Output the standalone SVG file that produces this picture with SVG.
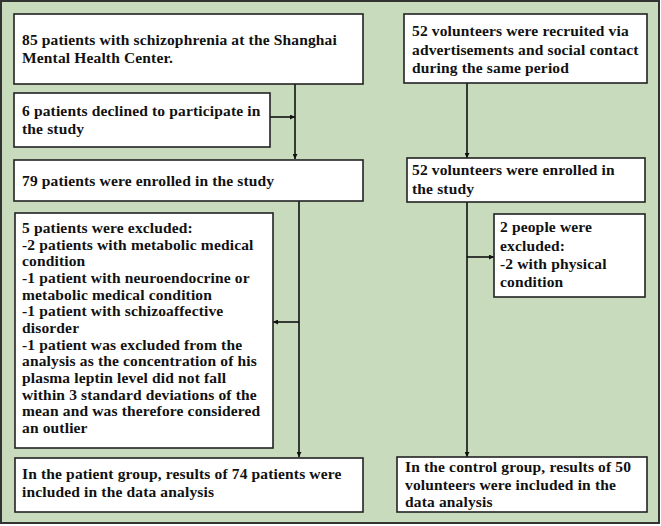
<svg xmlns="http://www.w3.org/2000/svg" width="661" height="526" viewBox="0 0 661 526">
<defs>
<marker id="ah" viewBox="0 0 10 10" refX="10" refY="5" markerWidth="5" markerHeight="5" orient="auto" markerUnits="userSpaceOnUse">
<path d="M0,0 L10,5 L0,10 z" fill="#111"/>
</marker>
<style>
.box{fill:#fff;stroke:#222;stroke-width:1.6}
.t{font-family:"Liberation Serif","Times New Roman",serif;font-weight:bold;font-size:15.5px;letter-spacing:0.15px;fill:#111}
.c{fill:none;stroke:#111;stroke-width:1.6}
</style>
</defs>
<rect x="1" y="1" width="658" height="522" fill="#c9dbbd" stroke="#333" stroke-width="2"/>
<g id="connectors">
<path class="c" d="M295,84 V159" marker-end="url(#ah)"/>
<path class="c" d="M270,117 H295" marker-end="url(#ah)"/>
<path class="c" d="M299,201 V457" marker-end="url(#ah)"/>
<path class="c" d="M299,322 H273" marker-end="url(#ah)"/>
<path class="c" d="M467,83 V158" marker-end="url(#ah)"/>
<path class="c" d="M467,202 V457" marker-end="url(#ah)"/>
<path class="c" d="M467,257 H494" marker-end="url(#ah)"/>
</g>
<g id="n1">
<rect class="box" x="14" y="14" width="349" height="70"/>
<text class="t" x="22" y="45">85 patients with schizophrenia at the Shanghai</text>
<text class="t" x="22" y="63">Mental Health Center.</text>
</g>
<g id="n2">
<rect class="box" x="14" y="93" width="256" height="54"/>
<text class="t" x="22" y="116">6 patients declined to participate in</text>
<text class="t" x="22" y="134">the study</text>
</g>
<g id="n3">
<rect class="box" x="14" y="160" width="349" height="41"/>
<text class="t" x="22" y="186">79 patients were enrolled in the study</text>
</g>
<g id="n4">
<rect class="box" x="15" y="213" width="258" height="235"/>
<text class="t" x="22" y="233">5 patients were excluded:</text>
<text class="t" x="22" y="250">-2 patients with metabolic medical</text>
<text class="t" x="22" y="266">condition</text>
<text class="t" x="22" y="283">-1 patient with neuroendocrine or</text>
<text class="t" x="22" y="300">metabolic medical condition</text>
<text class="t" x="22" y="316">-1 patient with schizoaffective</text>
<text class="t" x="22" y="333">disorder</text>
<text class="t" x="22" y="350">-1 patient was excluded from the</text>
<text class="t" x="22" y="366">analysis as the concentration of his</text>
<text class="t" x="22" y="383">plasma leptin level did not fall</text>
<text class="t" x="22" y="400">within 3 standard deviations of the</text>
<text class="t" x="22" y="416">mean and was therefore considered</text>
<text class="t" x="22" y="433">an outlier</text>
</g>
<g id="n5">
<rect class="box" x="15" y="458" width="348" height="54"/>
<text class="t" x="22" y="479">In the patient group, results of 74 patients were</text>
<text class="t" x="22" y="497">included in the data analysis</text>
</g>
<g id="r1">
<rect class="box" x="404" y="14" width="243" height="69"/>
<text class="t" x="412" y="36">52 volunteers were recruited via</text>
<text class="t" x="412" y="55">advertisements and social contact</text>
<text class="t" x="412" y="73">during the same period</text>
</g>
<g id="r2">
<rect class="box" x="407" y="158" width="238" height="44"/>
<text class="t" x="412" y="175">52 volunteers were enrolled in</text>
<text class="t" x="412" y="194">the study</text>
</g>
<g id="r3">
<rect class="box" x="494" y="214" width="151" height="83"/>
<text class="t" x="500" y="232">2 people were</text>
<text class="t" x="500" y="251">excluded:</text>
<text class="t" x="500" y="269">-2 with physical</text>
<text class="t" x="500" y="287">condition</text>
</g>
<g id="r4">
<rect class="box" x="397" y="457" width="250" height="55"/>
<text class="t" x="405" y="472">In the control group, results of 50</text>
<text class="t" x="405" y="490">volunteers were included in the</text>
<text class="t" x="405" y="507">data analysis</text>
</g>
</svg>
